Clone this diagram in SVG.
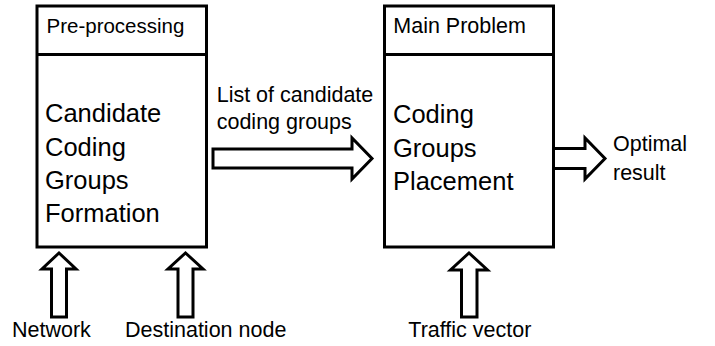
<svg xmlns="http://www.w3.org/2000/svg" width="715" height="346" viewBox="0 0 715 346">
<style>
.box{fill:#fff;stroke:#000;stroke-width:3}
.arr{fill:#fff;stroke:#000;stroke-width:3;stroke-linejoin:miter}
text{font-family:"Liberation Sans",Arial,sans-serif;fill:#000}
.sm{font-size:21.5px}
.lg{font-size:25.5px}
</style>
<rect width="715" height="346" fill="#fff"/>
<g id="preprocessing">
<rect class="box" x="37" y="6" width="169.5" height="241"/>
<line x1="37" y1="54.5" x2="206.5" y2="54.5" stroke="#000" stroke-width="3"/>
<text class="sm" x="46.5" y="33.3" style="font-size:20.5px">Pre-processing</text>
<text class="lg"><tspan x="45" y="122.3">Candidate</tspan><tspan x="45" y="155.5">Coding</tspan><tspan x="45" y="188.7">Groups</tspan><tspan x="45" y="221.9">Formation</tspan></text>
</g>
<g id="main-problem">
<rect class="box" x="384.5" y="6" width="169" height="241"/>
<line x1="384.5" y1="54.5" x2="553.5" y2="54.5" stroke="#000" stroke-width="3"/>
<text class="sm" x="393.3" y="33.3">Main Problem</text>
<text class="lg"><tspan x="393" y="123.3">Coding</tspan><tspan x="393" y="156.6">Groups</tspan><tspan x="393" y="189.9">Placement</tspan></text>
</g>
<g id="connectors">
<polygon class="arr" points="213,149 352,149 352,138 372,158.5 352,179 352,168 213,168"/>
<polygon class="arr" points="553.5,148.5 585,148.5 585,138 605,158.5 585,179 585,168.5 553.5,168.5"/>
<polygon class="arr" points="51.5,317 51.5,269 42,269 59,253 76,269 66.5,269 66.5,317"/>
<polygon class="arr" points="178,317 178,269 168,269 185.5,253 203,269 193,269 193,317"/>
<polygon class="arr" points="461.5,317 461.5,270 450.5,270 469,253 487.5,270 477,270 477,317"/>
</g>
<g id="labels">
<text class="sm" x="216.7" y="101.7">List of candidate</text>
<text class="sm" x="216.7" y="129">coding groups</text>
<text class="sm" x="613" y="150.5">Optimal</text>
<text class="sm" x="613" y="179.5">result</text>
<text class="sm" x="12" y="336.7">Network</text>
<text class="sm" x="125" y="336.7">Destination node</text>
<text class="sm" x="408.3" y="336.7">Traffic vector</text>
</g>
</svg>
